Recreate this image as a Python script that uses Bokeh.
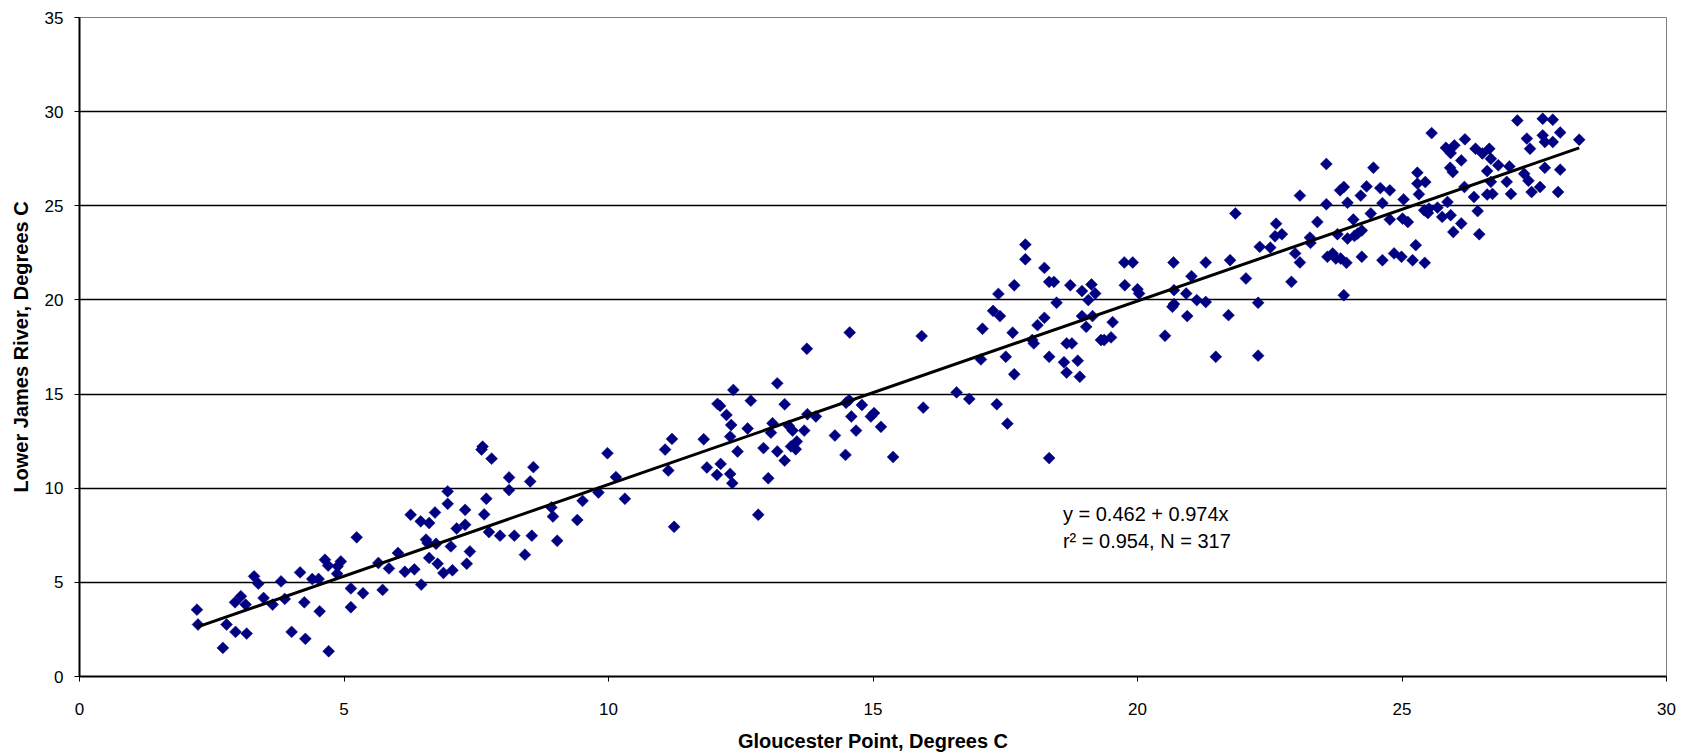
import numpy as np
from bokeh.plotting import figure
from bokeh.models import Range1d, FixedTicker, Label, ColumnDataSource
from bokeh.embed import file_html
from bokeh.resources import INLINE

# Gloucester Point temperature (x) vs Lower James River temperature (y), degrees C
gloucester = [
    2.22, 2.24, 2.71, 2.78, 2.95, 2.94, 3.05, 3.14, 3.16, 3.30, 3.38, 3.48, 3.65, 3.81, 3.88, 4.01,
    4.17, 4.25, 4.27, 4.40, 4.52, 4.54, 4.64, 4.70, 4.71, 4.88, 4.94, 4.87, 5.13, 5.13, 5.24, 5.36,
    5.65, 5.73, 5.85, 6.02, 6.15, 6.33, 6.26, 6.46, 6.45, 6.55, 6.61, 6.61,
    6.72, 6.58, 6.74, 6.77, 6.88, 7.05, 6.96, 6.96, 7.02, 7.13, 7.29, 7.29, 7.38, 7.32, 7.62, 7.60,
    7.79, 7.69, 7.65, 7.74, 7.95, 8.12, 8.12, 8.22, 8.42, 8.52, 8.58, 8.55, 8.92, 8.95, 9.03, 9.41,
    9.51, 9.81, 9.98, 10.14, 10.31, 11.07, 11.20, 11.13, 11.24,
    11.80, 11.86, 12.05, 12.12, 12.06, 12.11, 12.23, 12.32, 12.30, 12.30, 12.34, 12.36, 12.44, 12.63,
    12.69, 12.93, 13.02, 13.07, 13.10, 13.19, 13.19, 13.33, 13.33, 13.41, 13.48, 13.45, 13.56, 13.54,
    13.70, 13.75, 13.76, 13.92, 14.28, 14.48, 14.49, 14.55, 14.56, 14.59, 14.68, 14.79, 14.96, 15.02,
    15.15, 15.38, 15.92, 15.95, 16.58, 16.82, 12.83,
    17.34, 17.54, 18.33, 17.04, 17.07, 17.27, 17.37, 17.40, 17.51, 17.64, 17.67, 17.67, 17.88, 17.88,
    18.01, 18.04, 18.11, 18.24, 18.24, 18.33, 18.33, 18.42, 18.47, 18.61, 18.66, 18.66, 18.76, 18.73,
    18.87, 18.91, 18.95, 18.95, 19.03, 19.07, 19.13, 19.15, 19.20, 19.31, 19.37, 19.50, 19.53, 19.75,
    19.91, 19.76, 20.00, 20.03, 20.52, 20.68, 20.69, 20.66, 20.69, 20.92, 21.02, 20.94, 21.12, 21.29,
    21.29, 21.48, 21.72, 21.75, 21.85,
    22.05, 22.28, 22.28, 22.31, 22.51, 22.62, 22.60, 22.73, 22.91, 22.98, 23.07, 23.07, 23.26, 23.27,
    23.40, 23.57, 23.57, 23.59, 23.69, 23.78, 23.75, 23.84, 23.83, 23.90, 23.97, 23.90, 23.95, 23.97,
    24.08, 24.10, 24.16, 24.22, 24.24, 24.24, 24.33, 24.41, 24.46, 24.59, 24.63, 24.63, 24.77, 24.77,
    24.85, 24.99, 25.03, 25.01, 25.11, 25.20, 25.26, 25.29, 25.29, 25.32, 25.44, 25.43, 25.42, 25.51,
    25.56, 25.67,
    25.49, 25.76, 25.83, 25.86, 25.91, 25.92, 25.99, 25.96, 25.92, 25.97, 26.12, 26.12, 26.19, 26.18,
    26.36, 26.39, 26.43, 26.46, 26.52, 26.61, 26.65, 26.68, 26.61, 26.71, 26.82, 26.68, 27.03, 26.98,
    27.06, 27.18, 27.31, 27.36, 27.42, 27.45, 27.39, 27.61, 27.66, 27.66, 27.70, 27.70, 27.85, 27.85,
    27.99, 27.99, 27.95, 28.35,
]
james = [
    3.55, 2.76, 1.52, 2.76, 2.37, 3.94, 4.26, 3.82, 2.28, 5.32, 4.93, 4.17, 3.82, 5.05, 4.12, 2.37,
    5.53, 3.94, 2.00, 5.18, 5.18, 3.46, 6.20, 5.89, 1.34, 5.85, 6.11, 5.46, 4.68, 3.68, 7.39, 4.42,
    6.03, 4.60, 5.74, 6.56, 5.56, 5.69, 8.59, 4.88, 8.24, 7.27, 8.15, 6.30,
    8.71, 7.09, 7.05, 5.99, 5.50, 5.64, 9.83, 9.17, 6.91, 7.86, 8.85, 8.06, 6.64, 5.99, 12.21, 12.05,
    11.57, 9.44, 8.61, 7.67, 7.48, 10.57, 9.90, 7.48, 6.47, 10.36, 11.12, 7.48, 8.98, 8.50, 7.21, 8.31,
    9.33, 9.77, 11.86, 10.59, 9.44, 12.05, 12.62, 10.94, 7.95,
    12.60, 11.10, 10.71, 11.29, 14.48, 14.37, 13.89, 13.36, 12.74, 10.76, 10.27, 15.22, 11.95, 13.17,
    14.65, 12.13, 10.53, 12.95, 13.45, 15.57, 11.95, 14.46, 11.47, 13.31, 13.06, 12.22, 12.48, 12.07,
    13.06, 17.41, 13.93, 13.81, 12.80, 11.77, 14.54, 14.68, 18.27, 13.81, 13.06, 14.42, 13.81, 13.99,
    13.26, 11.66, 18.08, 14.28, 15.09, 14.74, 8.59,
    14.46, 13.43, 11.60, 16.84, 18.47, 19.42, 20.32, 19.14, 16.98, 18.26, 16.05, 20.78, 22.94, 22.16,
    17.87, 17.69, 18.66, 19.05, 21.70, 16.98, 20.96, 20.96, 19.85, 16.69, 16.14, 17.69, 17.69, 20.78,
    16.77, 15.92, 20.47, 19.14, 18.57, 19.99, 20.82, 19.14, 20.34, 17.87, 17.87, 18.01, 18.82, 21.99,
    21.99, 20.78, 20.57, 20.34, 18.10, 21.99, 20.52, 19.64, 19.78, 20.34, 21.26, 19.14, 19.99, 19.89,
    21.99, 16.98, 19.19, 22.11, 24.59,
    21.14, 19.85, 17.04, 22.82, 22.78, 24.05, 23.38, 23.49, 20.96, 22.47, 21.99, 25.54, 23.31, 23.03,
    24.14, 27.22, 25.08, 22.29, 22.47, 23.49, 22.20, 22.20, 25.82, 26.00, 25.16, 20.25, 21.97, 23.26,
    24.27, 23.40, 23.52, 25.54, 23.69, 22.29, 26.03, 24.59, 27.02, 25.94, 25.14, 22.11, 25.82, 24.27,
    22.47, 22.29, 25.34, 24.32, 24.14, 22.11, 22.91, 26.76, 26.18, 25.61, 26.26, 21.97, 24.76, 24.85,
    28.86, 24.90,
    24.62, 24.41, 28.08, 25.20, 27.02, 27.80, 28.21, 26.79, 24.50, 23.61, 24.06, 27.41, 28.53, 26.00,
    25.47, 28.03, 24.72, 23.49, 27.78, 26.85, 28.03, 27.50, 25.60, 25.63, 27.15, 26.27, 27.09, 26.27,
    25.63, 29.53, 26.70, 28.57, 28.03, 25.73, 26.33, 26.00, 29.62, 28.74, 28.39, 27.02, 29.57, 28.39,
    28.89, 26.92, 25.73, 28.51,
]

fit_intercept = 0.462
fit_slope = 0.974
fit_label_1 = "y = 0.462 + 0.974x"
fit_label_2 = "r\u00b2 = 0.954, N = 317"

x_ticks = [0, 5, 10, 15, 20, 25, 30]
y_ticks = [0, 5, 10, 15, 20, 25, 30, 35]

FONT = "Liberation Sans"

p = figure(width=1682, height=754, output_backend="svg", toolbar_location=None,
           x_range=Range1d(0, 30), y_range=Range1d(0, 35),
           min_border_left=79, min_border_right=16, min_border_top=17, min_border_bottom=77,
           background_fill_color="white", border_fill_color="white")

p.outline_line_color = "#808080"
p.outline_line_width = 1
p.xgrid.grid_line_color = None
p.ygrid.grid_line_color = "black"
p.ygrid.grid_line_width = 1.5
p.ygrid.ticker = FixedTicker(ticks=y_ticks)

for ax, ticks in ((p.xaxis[0], x_ticks), (p.yaxis[0], y_ticks)):
    ax.ticker = FixedTicker(ticks=ticks)
    ax.axis_line_color = "black"
    ax.axis_line_width = 2
    ax.major_tick_line_color = "black"
    ax.major_tick_line_width = 1
    ax.major_tick_in = 0
    ax.major_tick_out = 5
    ax.minor_tick_line_color = None
    ax.major_label_text_font = FONT
    ax.major_label_text_font_size = "17px"
    ax.major_label_text_color = "black"
    ax.axis_label_text_font = FONT
    ax.axis_label_text_font_style = "bold"
    ax.axis_label_text_font_size = "20px"
    ax.axis_label_text_color = "black"

p.xaxis.axis_label = "Gloucester Point, Degrees C"
p.yaxis.axis_label = "Lower James River, Degrees C"
p.xaxis.major_label_standoff = 21
p.xaxis.axis_label_standoff = 12
p.yaxis.major_label_standoff = 11
p.yaxis.axis_label_standoff = 10

src = ColumnDataSource(data=dict(x=gloucester, y=james))
p.scatter("x", "y", source=src, marker="square", angle=np.pi / 4, size=8.4,
          fill_color="#000080", line_color="#000080", line_width=0.5)

fx = np.array([min(gloucester), max(gloucester)])
p.line(fx, fit_intercept + fit_slope * fx, line_color="black", line_width=3)

p.add_layout(Label(x=18.59, y=8.64, text=fit_label_1, text_font=FONT, text_font_size="20px",
                   text_baseline="middle", text_align="left", text_color="black"))
p.add_layout(Label(x=18.59, y=7.21, text=fit_label_2, text_font=FONT, text_font_size="20px",
                   text_baseline="middle", text_align="left", text_color="black"))

open("out.html", "w").write(file_html(p, INLINE))
